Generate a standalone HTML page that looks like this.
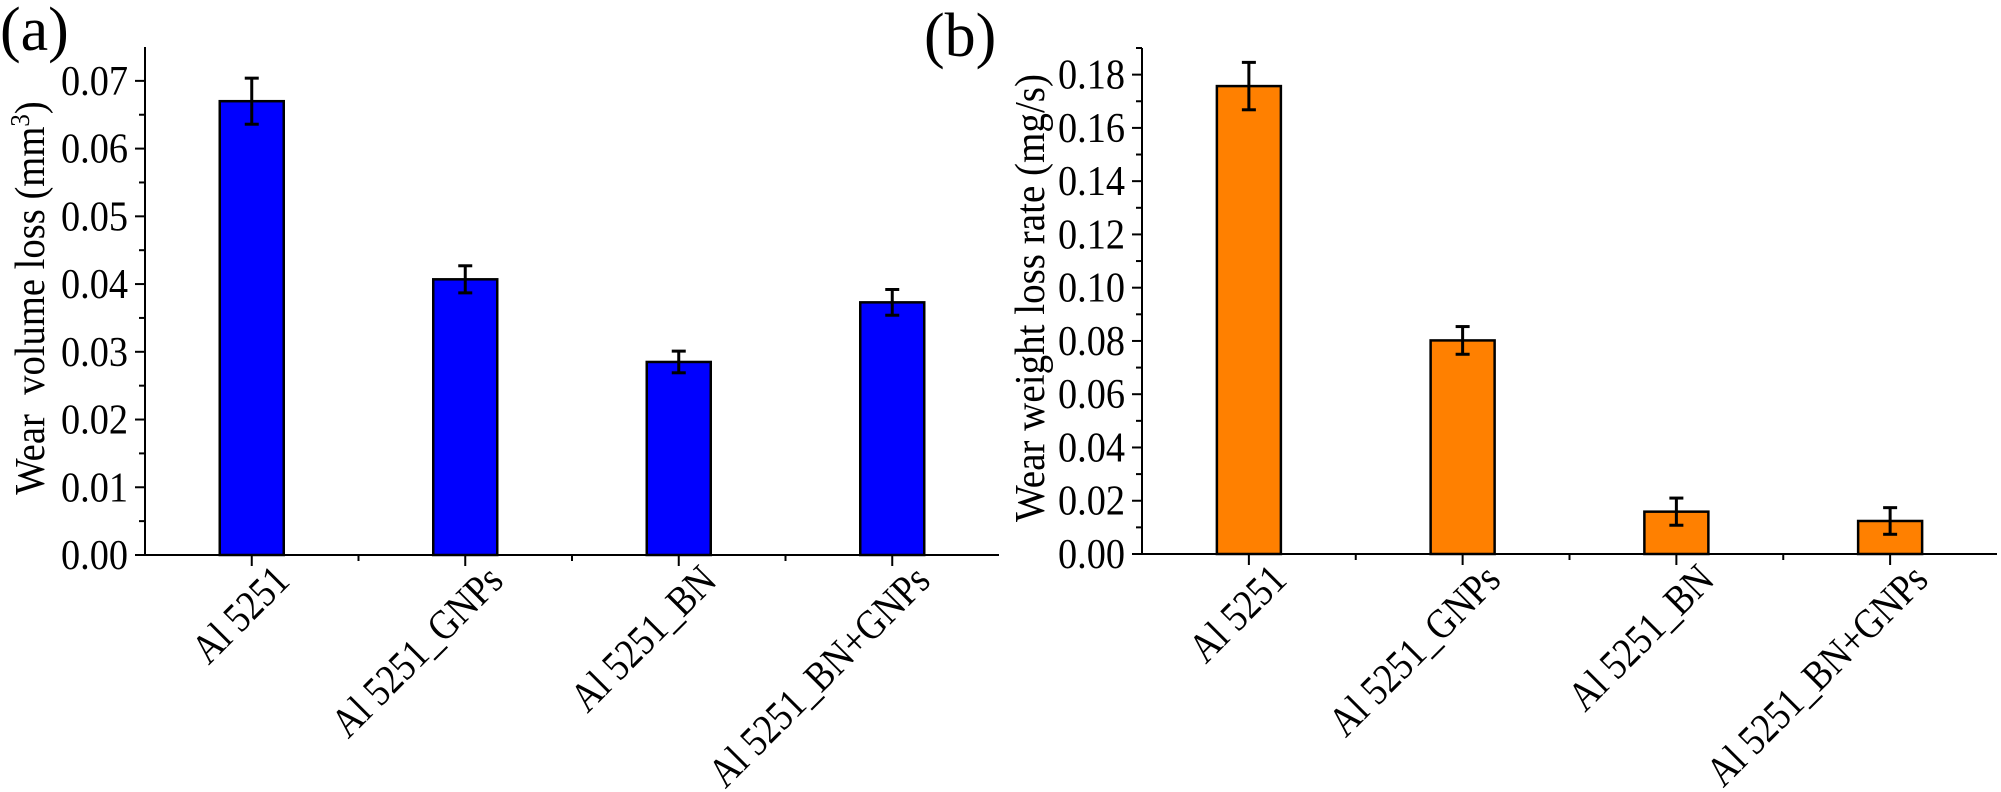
<!DOCTYPE html>
<html><head><meta charset="utf-8"><style>
html,body{margin:0;padding:0;background:#fff;}
svg{display:block;font-family:"Liberation Serif",serif;}
</style></head><body>
<svg id="chart" width="2001" height="792" viewBox="0 0 2001 792"></svg>
<script>
const categories = ["Al 5251", "Al 5251_GNPs", "Al 5251_BN", "Al 5251_BN+GNPs"];
const volumeLoss = [0.067, 0.0407, 0.0285, 0.0373];
const volumeErr = [0.0034, 0.0020, 0.0016, 0.0019];
const weightRate = [0.1757, 0.0802, 0.0159, 0.0124];
const weightErr = [0.0089, 0.0052, 0.0051, 0.0050];
const volumeTicks = ["0.00","0.01","0.02","0.03","0.04","0.05","0.06","0.07"];
const weightTicks = ["0.00","0.02","0.04","0.06","0.08","0.10","0.12","0.14","0.16","0.18"];

const NS = "http://www.w3.org/2000/svg";
const svg = document.getElementById("chart");
function mk(tag, attrs, parent) {
  const e = document.createElementNS(NS, tag);
  for (const k in attrs) e.setAttribute(k, attrs[k]);
  (parent || svg).appendChild(e);
  return e;
}

function panel(p) {
  const g = mk("g", {});
  
  
  const y = v => p.y0 - (v / p.max) * (p.y0 - p.yTop);
  const step = (p.x1 - p.x0) / categories.length;
  const x = i => p.x0 + step * (i + 0.5);
  p.vals.forEach((v, i) => {
    const r = mk("rect", {x: x(i) - 32, y: y(v), width: 64, height: p.y0 - y(v), fill: p.color, stroke: "#000", "stroke-width": 2.5}, g);
    
    
    const eg = mk("g", {stroke: "#000", "stroke-width": 3}, g);
    
    
    const t = y(v + p.errs[i]), b = y(v - p.errs[i]);
    mk("line", {x1: x(i), x2: x(i), y1: t, y2: b}, eg);
    mk("line", {x1: x(i) - 7, x2: x(i) + 7, y1: t, y2: t}, eg);
    mk("line", {x1: x(i) - 7, x2: x(i) + 7, y1: b, y2: b}, eg);
  });
  const ax = mk("line", {x1: p.x0, x2: p.x0, y1: p.yTop, y2: p.y0 + 1, stroke: "#000", "stroke-width": 2}, g);
  
  
  const xa = mk("line", {x1: p.x0 - 1, x2: p.x1, y1: p.y0, y2: p.y0, stroke: "#000", "stroke-width": 2}, g);
  
  
  p.ticks.forEach((lab, i) => {
    const v = i * p.tickStep;
    mk("line", {x1: p.x0 - 10, x2: p.x0, y1: y(v), y2: y(v), stroke: "#000", "stroke-width": 2}, g);
    const mv = v + p.tickStep / 2;
    if (mv <= p.max) mk("line", {x1: p.x0 - 6, x2: p.x0, y1: y(mv), y2: y(mv), stroke: "#000", "stroke-width": 2}, g);
    const t = mk("text", {x: p.x0 - 84, y: y(v) + 14, "font-size": 42, textLength: 67, lengthAdjust: "spacingAndGlyphs"}, g);
    t.textContent = lab;
    
    
  });
  categories.forEach((c, i) => {
    mk("line", {x1: x(i), x2: x(i), y1: p.y0, y2: p.y0 + 11, stroke: "#000", "stroke-width": 2}, g);
    if (i > 0) mk("line", {x1: x(i) - step / 2, x2: x(i) - step / 2, y1: p.y0, y2: p.y0 + 6, stroke: "#000", "stroke-width": 2}, g);
    const ax0 = x(i) + 20, ay0 = p.y0 + 8;
    const t = mk("text", {x: 0, y: 0, "text-anchor": "end", "font-size": 42, dy: 28,
      transform: `translate(${ax0} ${ay0}) rotate(-45) scale(0.86 1)`}, g);
    t.textContent = c;
    
    
  });
  const tt = mk("text", {x: 0, y: 0, "text-anchor": "middle", "font-size": 42,
    transform: `translate(${p.titleX} 298) rotate(-90) scale(${p.titleScale} 1)`}, g);
  tt.innerHTML = p.title;
  
  
  const pl = mk("text", {x: p.lx, y: p.ly, "font-size": 62}, g);
  pl.textContent = p.letter;
  
  
}

panel({name: "panel-a-volume-loss", x0: 145, x1: 999, y0: 555, yTop: 47, max: 0.075, tickStep: 0.01,
  vals: volumeLoss, errs: volumeErr, ticks: volumeTicks, color: "#0000ff",
  titleX: 44, titleScale: 0.92, title: 'Wear\u00a0 volume loss (mm<tspan dy="-15" font-size="27">3</tspan><tspan dy="15">)</tspan>',
  letter: "(a)", lx: 0, ly: 50});
panel({name: "panel-b-weight-loss-rate", x0: 1142, x1: 1997, y0: 554, yTop: 48, max: 0.19, tickStep: 0.02,
  vals: weightRate, errs: weightErr, ticks: weightTicks, color: "#ff8000",
  titleX: 1044, titleScale: 0.93, title: 'Wear weight loss rate (mg/s)',
  letter: "(b)", lx: 924, ly: 56});
</script>
</body></html>
